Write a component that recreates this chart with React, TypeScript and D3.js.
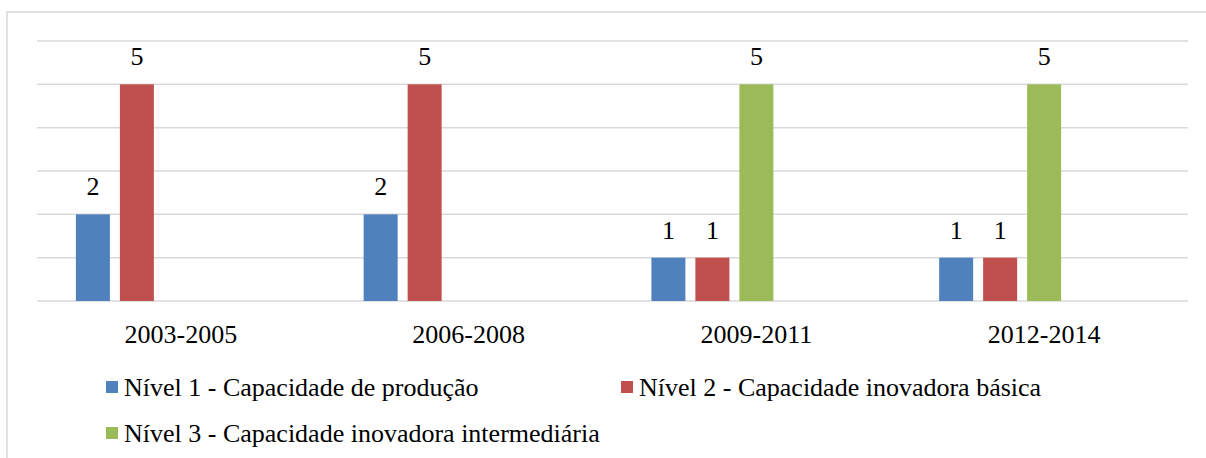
import React from "react";
import * as d3 from "d3";

const categories = ["2003-2005", "2006-2008", "2009-2011", "2012-2014"];
const seriesNames = [
  "Nível 1 - Capacidade de produção",
  "Nível 2 - Capacidade inovadora básica",
  "Nível 3 - Capacidade inovadora intermediária",
];
const nivel1 = [2, 2, 1, 1];
const nivel2 = [5, 5, 1, 1];
const nivel3 = [null, null, 5, 5];
// Excel chart reserves five series slots per category (two are empty)
const seriesSlots = [0, 1, 2, 3, 4];
const yTicks = [0, 1, 2, 3, 4, 5, 6];
const colors = ["#4F81BD", "#C0504D", "#9BBB59"];

const W = 1206;
const H = 458;
const FONT = "'Liberation Serif'";
const textStyle = { fontFamily: FONT, fontSize: "26px" };

export default function App() {
  const series = [nivel1, nivel2, nivel3];
  const x0 = d3.scaleBand<string>().domain(categories).range([37, 1188]).padding(0);
  const bw = x0.bandwidth();
  const outer = 38.9;
  const x1 = d3
    .scaleBand<number>()
    .domain(seriesSlots)
    .range([outer, bw - outer])
    .paddingInner(0.227)
    .paddingOuter(0);
  const y = d3.scaleLinear().domain([0, 6]).range([301, 41]);

  const legendItems = [
    { x: 106, y: 387 },
    { x: 621, y: 387 },
    { x: 106, y: 433 },
  ];

  return (
    <svg
      width={W}
      height={H}
      style={{ position: "absolute", left: 0, top: 0, background: "#fff" }}
    >
      <rect x={0} y={0} width={W} height={H} fill="#fff" />
      <rect x={7} y={12} width={1400} height={600} fill="none" stroke="#d9d9d9" strokeWidth={1.5} />
      {yTicks.map((t) => (
        <line
          key={t}
          x1={37}
          x2={1188}
          y1={y(t)}
          y2={y(t)}
          stroke="#d9d9d9"
          strokeWidth={1.5}
        />
      ))}
      {categories.map((c, ci) => (
        <g key={c}>
          {series.map((s, si) => {
            const v = s[ci];
            if (v == null) return null;
            const bx = x0(c)! + x1(si)!;
            return (
              <g key={si}>
                <rect
                  x={bx}
                  y={y(v)}
                  width={x1.bandwidth()}
                  height={y(0) - y(v)}
                  fill={colors[si]}
                />
                <text
                  x={bx + x1.bandwidth() / 2}
                  y={y(v) - 19}
                  textAnchor="middle"
                  style={textStyle}
                  fill="#000"
                >
                  {v}
                </text>
              </g>
            );
          })}
          <text x={x0(c)! + bw / 2} y={343} textAnchor="middle" style={textStyle} fill="#000">
            {c}
          </text>
        </g>
      ))}
      {seriesNames.map((n, i) => (
        <g key={n}>
          <rect x={legendItems[i].x} y={legendItems[i].y - 6} width={12} height={12} fill={colors[i]} />
          <text x={legendItems[i].x + 18} y={legendItems[i].y + 9} style={textStyle} fill="#000">
            {n}
          </text>
        </g>
      ))}
    </svg>
  );
}
